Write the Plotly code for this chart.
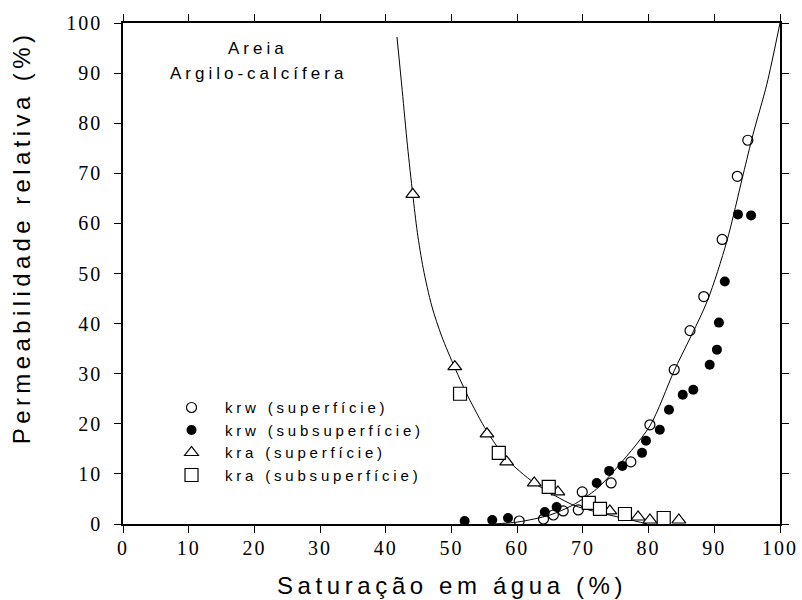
import plotly.graph_objects as go

# krw (superfície) - open circles
krw_sup_x = [60.3, 64.0, 65.5, 67.0, 69.3, 69.9, 74.3, 77.3, 80.2, 83.9, 86.3, 88.4, 91.2, 93.5, 95.1]
krw_sup_y = [0.6, 1.0, 1.8, 2.6, 2.8, 6.4, 8.2, 12.4, 19.8, 30.8, 38.6, 45.4, 56.8, 69.4, 76.6]

# krw (subsuperfície) - filled circles
krw_sub_x = [52.0, 56.2, 58.6, 64.2, 66.0, 72.1, 74.0, 76.0, 79.0, 79.6, 81.7, 83.1, 85.2, 86.8, 89.3, 90.4, 90.7, 91.6, 93.6, 95.6]
krw_sub_y = [0.6, 0.8, 1.2, 2.4, 3.4, 8.2, 10.6, 11.6, 14.2, 16.6, 18.8, 22.8, 25.8, 26.8, 31.8, 34.8, 40.2, 48.4, 61.8, 61.6]

# kra (superfície) - triangles
kra_sup_x = [44.1, 50.5, 55.4, 58.4, 62.6, 66.2, 74.1, 78.4, 80.2, 84.6]
kra_sup_y = [65.8, 31.4, 18.0, 12.4, 8.2, 6.4, 2.6, 1.4, 0.8, 0.8]

# kra (subsuperfície) - squares
kra_sub_x = [51.3, 57.2, 64.8, 70.9, 72.6, 76.4, 82.3]
kra_sub_y = [26.0, 14.2, 7.4, 4.2, 3.0, 2.0, 1.2]

# fitted curves
krw_fit_x = [56.3, 60.1, 65.0, 68.5, 72.1, 74.6, 80.2, 83.9, 88.9, 91.9, 94.4, 95.9, 98.0, 100.0]
krw_fit_y = [0.0, 0.4, 1.8, 3.8, 7.0, 10.4, 19.6, 30.6, 44.4, 56.4, 69.8, 77.8, 87.8, 100.0]

kra_fit_x = [41.7, 42.5, 43.3, 44.1, 44.8, 45.7, 47.0, 48.5, 50.5, 52.5, 55.4, 58.4, 62.6, 68.5, 72.1, 76.7, 79.8]
kra_fit_y = [97.2, 86.5, 75.5, 65.8, 58.2, 51.0, 43.5, 37.5, 31.2, 25.5, 18.5, 13.0, 8.2, 3.8, 2.4, 1.0, 0.0]

x_ticks = [0, 10, 20, 30, 40, 50, 60, 70, 80, 90, 100]
y_ticks = [0, 10, 20, 30, 40, 50, 60, 70, 80, 90, 100]

legend_names = ["krw (superfície)", "krw (subsuperfície)", "kra (superfície)", "kra (subsuperfície)"]
x_title = "Saturação em água (%)"
y_title = "Permeabilidade relativa (%)"
label_lines = ["Areia", "Argilo-calcífera"]


def spaced(text, px):
    return '<span style="letter-spacing:%spx">%s</span>' % (px, text)


fig = go.Figure()

fig.add_trace(go.Scatter(x=krw_fit_x, y=krw_fit_y, mode="lines",
                         line=dict(color="black", width=1, shape="spline", smoothing=0.8),
                         showlegend=False, hoverinfo="skip"))
fig.add_trace(go.Scatter(x=kra_fit_x, y=kra_fit_y, mode="lines",
                         line=dict(color="black", width=1, shape="spline", smoothing=0.8),
                         showlegend=False, hoverinfo="skip"))

fig.add_trace(go.Scatter(x=krw_sup_x, y=krw_sup_y, mode="markers", name=spaced(legend_names[0], 3.8),
                         marker=dict(symbol="circle-open", size=10, color="black", line=dict(width=1.2))))
fig.add_trace(go.Scatter(x=krw_sub_x, y=krw_sub_y, mode="markers", name=spaced(legend_names[1], 3.8),
                         marker=dict(symbol="circle", size=10, color="black")))
fig.add_trace(go.Scatter(x=kra_sup_x, y=kra_sup_y, mode="markers", name=spaced(legend_names[2], 3.8),
                         marker=dict(symbol="triangle-up", size=12, color="white",
                                     line=dict(width=1.2, color="black"))))
fig.add_trace(go.Scatter(x=kra_sub_x, y=kra_sub_y, mode="markers", name=spaced(legend_names[3], 3.8),
                         marker=dict(symbol="square", size=13, color="white",
                                     line=dict(width=1.2, color="black"))))

axis_common = dict(
    showline=True, linecolor="black", linewidth=1.5, mirror="ticks",
    ticks="outside", ticklen=7, tickwidth=1, tickcolor="black",
    showgrid=False, zeroline=False, automargin=False,
    tickfont=dict(family="Liberation Serif, Times New Roman, serif", size=20, color="black"),
)

fig.update_xaxes(range=[0, 100], tickvals=x_ticks, ticktext=[spaced(str(v), 2) for v in x_ticks],
                 ticklabelstandoff=-2, **axis_common)
fig.update_yaxes(range=[0, 100], tickvals=y_ticks, ticktext=[spaced(str(v), 2) for v in y_ticks],
                 ticklabelstandoff=8, **axis_common)

title_font = dict(family="Liberation Sans, Arial, sans-serif", size=24, color="black")
fig.add_annotation(x=0.5, y=-0.122, xref="paper", yref="paper", showarrow=False,
                   text=spaced(x_title, 4.6), font=title_font,
                   xanchor="center", yanchor="middle")
fig.add_annotation(x=-0.154, y=0.572, xref="paper", yref="paper", showarrow=False,
                   text=spaced(y_title, 4.4), font=title_font, textangle=-90,
                   xanchor="center", yanchor="middle")

label_font = dict(family="Liberation Sans, Arial, sans-serif", size=17, color="black")
fig.add_annotation(x=0.206, y=0.950, xref="paper", yref="paper", showarrow=False,
                   text=spaced(label_lines[0], 4.0), font=label_font,
                   xanchor="center", yanchor="middle")
fig.add_annotation(x=0.206, y=0.900, xref="paper", yref="paper", showarrow=False,
                   text=spaced(label_lines[1], 4.0), font=label_font,
                   xanchor="center", yanchor="middle")

fig.update_layout(
    width=802, height=600,
    margin=dict(l=123, r=22, t=23, b=76, autoexpand=False),
    paper_bgcolor="white", plot_bgcolor="white",
    legend=dict(x=0.0533, y=0.265, xanchor="left", yanchor="top",
                bgcolor="rgba(0,0,0,0)",
                font=dict(family="Liberation Sans, Arial, sans-serif", size=15, color="black"),
                tracegroupgap=0, itemsizing="trace", itemwidth=57),
)

fig.write_html("out.html")
